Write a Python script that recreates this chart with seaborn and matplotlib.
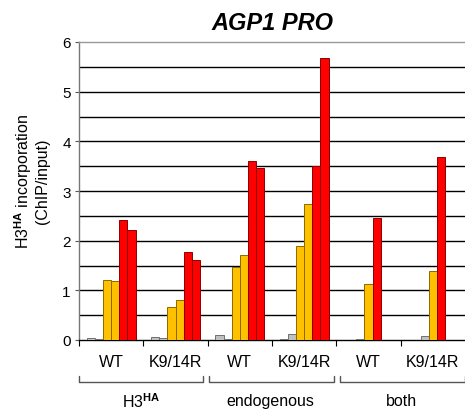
import matplotlib
matplotlib.use("Agg")
import matplotlib.pyplot as plt
import matplotlib.transforms as mtransforms
import seaborn as sns
import pandas as pd

# ---- data ----
categories = ["H3HA WT", "H3HA K9/14R", "endo WT", "endo K9/14R", "both WT", "both K9/14R"]
tick_labels = ["WT", "K9/14R", "WT", "K9/14R", "WT", "K9/14R"]
group_labels = ["H3$^{\\mathbf{HA}}$", "endogenous", "both"]

series6 = ["grey1", "grey2", "orange1", "orange2", "red1", "red2"]
grey1 = [0.05, 0.07, 0.10, 0.03]
grey2 = [0.02, 0.05, 0.03, 0.13]
orange1 = [1.20, 0.66, 1.47, 1.89]
orange2 = [1.18, 0.80, 1.71, 2.74]
red1 = [2.42, 1.77, 3.61, 3.50]
red2 = [2.21, 1.62, 3.47, 5.68]

series3 = ["grey", "orange", "red"]
both_grey = [0.02, 0.08]
both_orange = [1.13, 1.38]
both_red = [2.45, 3.68]

colors = {"grey1": "#C0C0C0", "grey2": "#C0C0C0", "orange1": "#FFC000", "orange2": "#FFC000",
          "red1": "#FF0000", "red2": "#FF0000",
          "grey": "#C0C0C0", "orange": "#FFC000", "red": "#FF0000"}

rows = []
for name, vals in zip(series6, [grey1, grey2, orange1, orange2, red1, red2]):
    for c, v in zip(categories[:4], vals):
        rows.append({"cat": c, "series": name, "val": v})
df6 = pd.DataFrame(rows)
rows = []
for name, vals in zip(series3, [both_grey, both_orange, both_red]):
    for c, v in zip(categories[4:], vals):
        rows.append({"cat": c, "series": name, "val": v})
df3 = pd.DataFrame(rows)

# ---- style ----
sns.set_style("white")
plt.rcParams["font.family"] = ["Liberation Sans", "DejaVu Sans"]
plt.rcParams["mathtext.fontset"] = "custom"
plt.rcParams["mathtext.rm"] = "Liberation Sans"
plt.rcParams["mathtext.bf"] = "Liberation Sans:bold"
plt.rcParams["mathtext.it"] = "Liberation Sans:italic"
plt.rcParams["text.color"] = "black"
plt.rcParams["axes.labelcolor"] = "black"
plt.rcParams["xtick.color"] = "black"
plt.rcParams["ytick.color"] = "black"

fig = plt.figure(figsize=(4.65, 4.14), dpi=100)
ax = fig.add_axes([79 / 465, 1 - 341 / 414, 386 / 465, 298 / 414])

sns.barplot(data=df6, x="cat", y="val", hue="series", order=categories, hue_order=series6,
            palette=colors, width=0.76, dodge=True, errorbar=None, legend=False, ax=ax,
            saturation=1, zorder=3)
sns.barplot(data=df3, x="cat", y="val", hue="series", order=categories, hue_order=series3,
            palette=colors, width=0.38, dodge=True, errorbar=None, legend=False, ax=ax,
            saturation=1, zorder=3)

edge_map = {"#c0c0c0": "#707070", "#ffc000": "#8a6a00", "#ff0000": "#8b0000"}
for p in ax.patches:
    fc = matplotlib.colors.to_hex(p.get_facecolor())
    p.set_edgecolor(edge_map.get(fc, "#333333"))
    p.set_linewidth(0.7)

ax.set_xlim(-0.5, 5.5)
ax.set_ylim(0, 6)
for yv in [0.5, 1, 1.5, 2, 2.5, 3, 3.5, 4, 4.5, 5, 5.5]:
    ax.axhline(yv, color="black", lw=1.0, zorder=1)

ax.set_yticks(range(0, 7))
ax.set_yticklabels([str(i) for i in range(0, 7)], fontsize=11)
ax.tick_params(axis="y", direction="out", length=3, width=0.8, color="#555555", pad=3, left=True)

ax.set_xticks([-0.5, 0.5, 1.5, 2.5, 3.5, 4.5])
ax.set_xticklabels([])
ax.set_xticks(range(6), minor=True)
ax.set_xticklabels(tick_labels, minor=True, fontsize=11.5)
ax.tick_params(axis="x", which="major", direction="out", length=4, width=0.8, color="black", bottom=True)
ax.tick_params(axis="x", which="minor", length=0, pad=10)

ax.set_xlabel("")
ax.set_ylabel("H3$^{\\mathbf{HA}}$ incorporation\n(ChIP/input)", fontsize=11.5,
              linespacing=1.05)
ax.yaxis.set_label_coords(-0.075, 0.535)

ax.spines["right"].set_visible(False)
ax.spines["top"].set_color("#999999")
ax.spines["left"].set_color("#777777")
ax.spines["bottom"].set_color("black")
for s in ["top", "left", "bottom"]:
    ax.spines[s].set_linewidth(1.0)

ax.set_title("AGP1 PRO", fontsize=17, fontweight="bold", fontstyle="italic", pad=9)

# group brackets
trans = mtransforms.blended_transform_factory(ax.transData, ax.transAxes)
y_top = -(377 - 341) / 298
y_bot = -(383 - 341) / 298
brackets = [(-0.5, 1.42), (1.52, 3.47), (3.55, 5.5)]
label_x = [0.46, 2.48, 4.52]
for (x0, x1), lab, lx in zip(brackets, group_labels, label_x):
    ax.plot([x0, x0, x1, x1], [y_top, y_bot, y_bot, y_top], transform=trans,
            color="#555555", lw=1.0, clip_on=False)
    ax.text(lx, -(402 - 341) / 298, lab, transform=trans,
            ha="center", va="center", fontsize=11.5)

fig.savefig("out.png", dpi=100)
